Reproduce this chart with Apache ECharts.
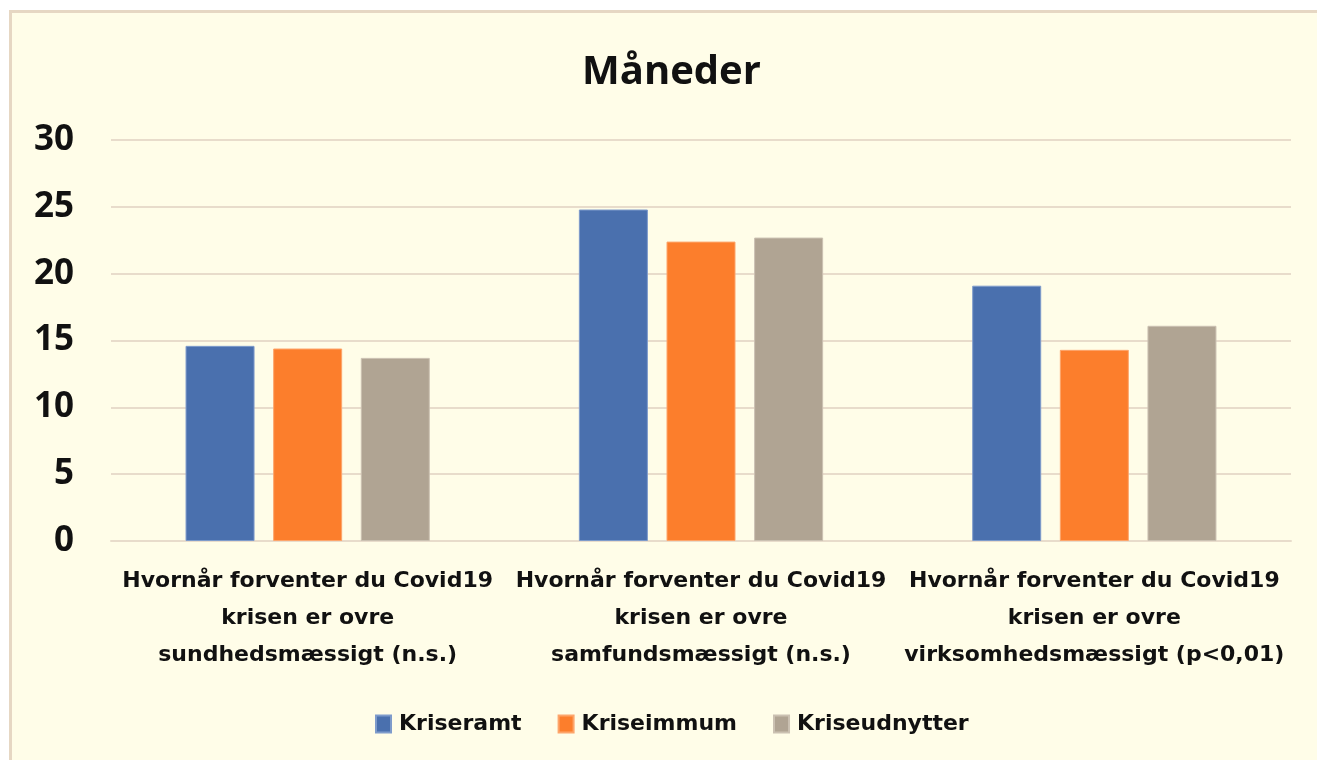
<!DOCTYPE html>
<html>
<head>
<meta charset="utf-8">
<script src="https://cdn.jsdelivr.net/npm/echarts@6/dist/echarts.min.js"></script>
<style>
  html, body { margin: 0; padding: 0; background: #fff; }
  .panel {
    position: absolute; left: 9px; top: 10px; width: 1320px; height: 760px;
    background: #FFFDE8; border-left: 3px solid #E6D7C3; border-top: 3px solid #E6D7C3;
  }
  #chart { position: absolute; left: 0; top: 0; width: 1317px; height: 760px; }
</style>
</head>
<body>
<div class="panel"></div>
<div id="chart"></div>
<script>
// kategorier og værdier (måneder)
const categories = [
  'Hvornår forventer du Covid19\nkrisen er ovre\nsundhedsmæssigt (n.s.)',
  'Hvornår forventer du Covid19\nkrisen er ovre\nsamfundsmæssigt (n.s.)',
  'Hvornår forventer du Covid19\nkrisen er ovre\nvirksomhedsmæssigt (p<0,01)'
]
const kriseramt = [14.6, 24.8, 19.1]
const kriseimmum = [14.4, 22.4, 14.3]
const kriseudnytter = [13.7, 22.7, 16.1]
const seriesNames = ['Kriseramt', 'Kriseimmum', 'Kriseudnytter']

const font = '"Open Sans", "DejaVu Sans", sans-serif'
const wideFont = '"DejaVu Sans", "Open Sans", sans-serif'
const chart = echarts.init(document.getElementById('chart'))

function bar(name, data, color, border) {
  return {
    name: name,
    type: 'bar',
    data: data,
    barWidth: 69,
    barGap: '27%',
    itemStyle: { color: color, borderColor: border, borderWidth: 1 }
  }
}

const option = {
  backgroundColor: 'transparent',
  textStyle: { fontFamily: font },
  title: {
    text: 'Måneder',
    left: 577,
    top: 48,
    textStyle: { fontFamily: font, fontWeight: 'bold', fontSize: 40, color: '#111' }
  },
  legend: {
    data: seriesNames,
    left: 370,
    top: 708,
    itemWidth: 15,
    itemHeight: 17,
    itemGap: 36,
    icon: 'rect',
    textStyle: { fontFamily: wideFont, fontWeight: 'bold', fontSize: 22, color: '#111', padding: [0, 0, 0, 3] }
  },
  grid: { left: 111, right: 26, top: 140, bottom: 219 },
  xAxis: {
    type: 'category',
    data: categories,
    axisTick: { show: false },
    axisLine: { lineStyle: { color: '#E8DCCB', width: 2 } },
    axisLabel: {
      interval: 0,
      margin: 22,
      lineHeight: 37,
      fontFamily: wideFont,
      fontWeight: 'bold',
      fontSize: 22,
      color: '#111'
    }
  },
  yAxis: {
    type: 'value',
    min: 0,
    max: 30,
    interval: 5,
    axisLine: { show: false },
    axisTick: { show: false },
    splitLine: { lineStyle: { color: '#E8DCCB', width: 2 } },
    axisLabel: {
      margin: 37,
      fontFamily: font,
      fontWeight: 'bold',
      fontSize: 35,
      color: '#111'
    }
  },
  series: [
    bar(seriesNames[0], kriseramt, '#4A70AE', '#7E9BCB'),
    bar(seriesNames[1], kriseimmum, '#FC7E2C', '#FDA56B'),
    bar(seriesNames[2], kriseudnytter, '#B0A493', '#CBC1B2')
  ]
}
chart.setOption(option)
</script>
</body>
</html>
